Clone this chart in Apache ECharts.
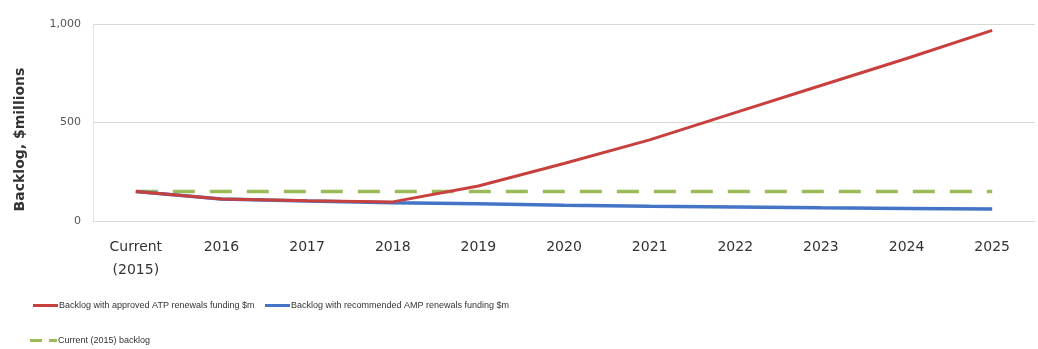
<!DOCTYPE html>
<html>
<head>
<meta charset="utf-8">
<script src="https://cdn.jsdelivr.net/npm/echarts@6/dist/echarts.min.js"></script>
<style>
  html, body { margin: 0; padding: 0; background: #ffffff; }
  #chart { width: 1038px; height: 349px; }
</style>
</head>
<body>
<div id="chart"></div>
<script>
// Backlog projections, $ millions
const categories = ['Current\n(2015)', '2016', '2017', '2018', '2019', '2020', '2021', '2022', '2023', '2024', '2025'];
const atpBacklog = [150, 112, 103, 97, 178, 292, 412, 550, 688, 825, 968];
const ampBacklog = [150, 112, 101, 93, 88, 80, 75, 71, 67, 64, 61];
const currentBacklog = [150, 150, 150, 150, 150, 150, 150, 150, 150, 150, 150];
const yTicks = [0, 500, 1000];

const seriesNames = {
  atp: 'Backlog with approved ATP renewals funding $m',
  amp: 'Backlog with recommended AMP renewals funding $m',
  cur: 'Current (2015) backlog'
};

const RED = '#c8403e';
const BLUE = '#4374c6';
const GREEN = '#9bbb59';

// legend keys: a solid bar, and a pair of dashes for the dashed series
const SOLID_KEY = 'path://M0,0H25V3H0Z';
const DASH_KEY = 'path://M0,0H12V3H0Z M19,0H27V3H19Z';

const legendText = {
  color: '#333333',
  fontSize: 9,
  fontFamily: "'Liberation Sans', sans-serif",
  padding: [0, 0, 0, -4]
};

function legendFor(name, left, top, icon, width) {
  return {
    data: [{ name: name, icon: icon }],
    left: left, top: top,
    padding: 0,
    itemWidth: width, itemHeight: 3, itemGap: 0,
    textStyle: legendText,
    selectedMode: false
  };
}

const chart = echarts.init(document.getElementById('chart'), null, { renderer: 'canvas' });

chart.setOption({
  animation: false,
  backgroundColor: '#ffffff',
  grid: { left: 93, top: 24, width: 942, height: 197, containLabel: false },
  xAxis: {
    type: 'category',
    data: categories,
    boundaryGap: true,
    axisLine: { show: true, lineStyle: { color: '#d9d9d9', width: 1 } },
    axisTick: { show: false },
    axisLabel: {
      color: '#333333',
      fontSize: 14,
      fontFamily: "'DejaVu Sans', sans-serif",
      lineHeight: 23,
      margin: 15,
      interval: 0
    },
    splitLine: { show: false }
  },
  yAxis: {
    type: 'value',
    min: yTicks[0],
    max: yTicks[yTicks.length - 1],
    interval: yTicks[1] - yTicks[0],
    name: 'Backlog, $millions',
    nameLocation: 'middle',
    nameGap: 66,
    nameRotate: 90,
    nameTextStyle: {
      color: '#333333',
      fontSize: 14,
      fontWeight: 'bold',
      fontFamily: "'DejaVu Sans', sans-serif",
      padding: [0, 0, 0, -34]
    },
    axisLine: { show: true, lineStyle: { color: '#e3e3e3', width: 1 } },
    axisTick: { show: false },
    axisLabel: {
      color: '#555555',
      fontSize: 11,
      fontFamily: "'DejaVu Sans', sans-serif",
      margin: 12,
      formatter: v => v.toLocaleString('en-US')
    },
    splitLine: { show: true, lineStyle: { color: '#d9d9d9', width: 1 } }
  },
  legend: [
    legendFor(seriesNames.atp, 33, 301, SOLID_KEY, 25),
    legendFor(seriesNames.amp, 265, 301, SOLID_KEY, 25),
    legendFor(seriesNames.cur, 30, 336, DASH_KEY, 27)
  ],
  series: [
    {
      name: seriesNames.cur,
      type: 'line',
      data: currentBacklog,
      symbol: 'none',
      z: 1,
      lineStyle: { color: GREEN, width: 3.5, type: [22, 15] },
      itemStyle: { color: GREEN }
    },
    {
      name: seriesNames.amp,
      type: 'line',
      data: ampBacklog,
      symbol: 'none',
      z: 2,
      lineStyle: { color: BLUE, width: 3.5 },
      itemStyle: { color: BLUE }
    },
    {
      name: seriesNames.atp,
      type: 'line',
      data: atpBacklog,
      symbol: 'none',
      z: 3,
      lineStyle: { color: RED, width: 3 },
      itemStyle: { color: RED }
    }
  ]
});
</script>
</body>
</html>
